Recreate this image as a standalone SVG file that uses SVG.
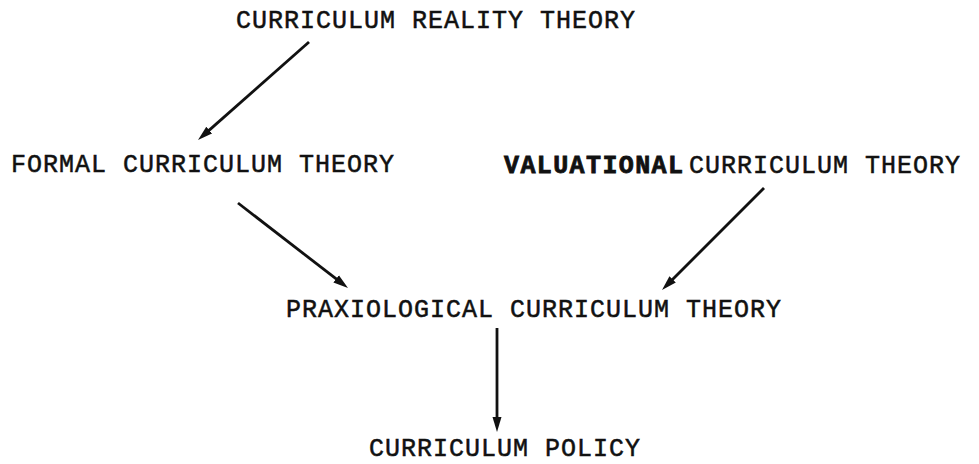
<svg xmlns="http://www.w3.org/2000/svg" width="979" height="464" viewBox="0 0 979 464">
<defs>
<style>
.t{font-family:"Liberation Mono","DejaVu Sans Mono",monospace;font-size:25px;letter-spacing:1px;fill:#111;stroke:#111;stroke-width:0.5}
.b{font-weight:bold;letter-spacing:1.4px;stroke-width:0.8}
.c{stroke:#111;stroke-width:2.8;fill:none;marker-end:url(#ah)}
</style>
<marker id="ah" markerUnits="userSpaceOnUse" markerWidth="15" markerHeight="10" refX="3" refY="5" orient="auto">
<path d="M0,0.5 L15,5 L0,9.5 z" fill="#111"/>
</marker>
</defs>
<rect width="979" height="464" fill="#fff"/>
<g id="connectors">
<line class="c" x1="309" y1="42" x2="207" y2="132.1"/>
<line class="c" x1="238" y1="203" x2="338.5" y2="280.7"/>
<line class="c" x1="764" y1="188" x2="670.5" y2="281.5"/>
<line class="c" x1="497" y1="328" x2="497" y2="420"/>
</g>
<g id="reality"><text class="t" x="236" y="28">CURRICULUM REALITY THEORY</text></g>
<g id="formal"><text class="t" x="11" y="172">FORMAL CURRICULUM THEORY</text></g>
<g id="valuational"><text class="t b" x="504" y="173">VALUATIONAL</text><text class="t" x="689" y="173">CURRICULUM THEORY</text></g>
<g id="praxiological"><text class="t" x="286" y="317">PRAXIOLOGICAL CURRICULUM THEORY</text></g>
<g id="policy"><text class="t" x="369" y="456">CURRICULUM POLICY</text></g>
</svg>
